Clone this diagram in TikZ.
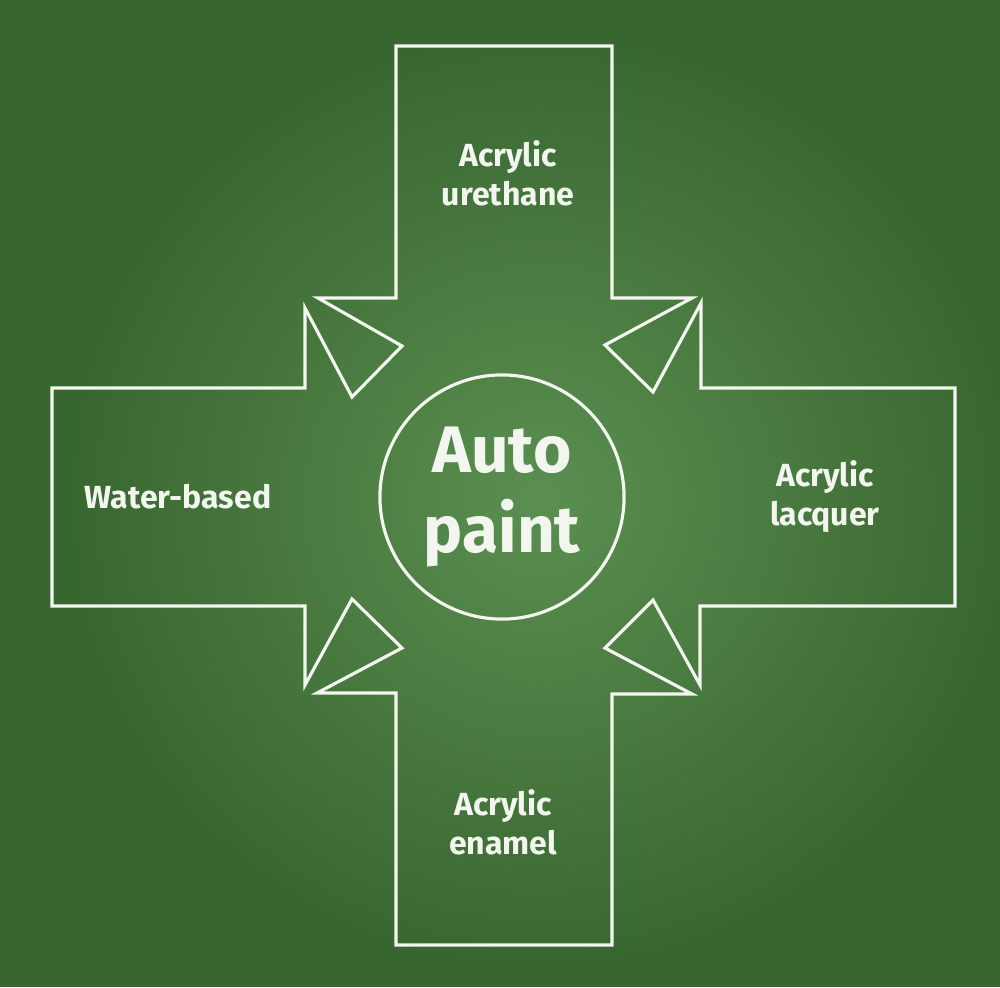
\documentclass[tikz,border=0pt]{standalone}
\usepackage{fontspec}
\setmainfont{Fira Sans}
\usetikzlibrary{positioning}
\definecolor{board}{HTML}{38662F}
\definecolor{boardlight}{HTML}{5B8F51}
\definecolor{chalk}{HTML}{F3F5EF}
\tikzset{
  chalkline/.style={draw=chalk, line width=0.9pt, line join=miter},
  lab/.style={text=chalk, font=\bfseries\fontsize{9.1pt}{11.1pt}\selectfont, align=center},
  hub/.style={circle, draw=chalk, line width=0.9pt, minimum size=2.44cm, inner sep=0pt,
    text=chalk, font=\bfseries\fontsize{18.7pt}{22.8pt}\selectfont, align=center},
}

\begin{document}
\begin{tikzpicture}[x=0.01cm, y=-0.01cm]
    % board
    \fill[board] (0,0) rectangle (1000,987);
    \useasboundingbox (0,0) rectangle (1000,987);
    \shade[inner color=boardlight, outer color=board] (540,500) circle (470);
    % cross of four arrows
    \draw[chalkline] (52,388) -- (305,388) -- (305,308) -- (352,397) -- (402,346) -- (318,298)
      -- (396,298) -- (396,46) -- (612,46) -- (612,298) -- (692,298) -- (605,345) -- (653,392)
      -- (701,303) -- (701,388) -- (955,388) -- (955,606) -- (700,606) -- (700,685) -- (653,600)
      -- (605,648) -- (692,694) -- (612,694) -- (612,945) -- (396,945) -- (396,693) -- (317,693)
      -- (402,648) -- (352,599) -- (305,685) -- (305,606) -- (52,606) -- cycle;
    \node[hub] (paint) at (502,497) {Auto\\paint};
    \node[lab] (urethane) at (508,173) {Acrylic\\urethane};
    \node[lab] (water) at (178,497) {Water-based};
    \node[lab] (lacquer) at (825,497) {Acrylic\\lacquer};
    \node[lab] (enamel) at (503,822) {Acrylic\\enamel};
  \end{tikzpicture}
\end{document}
